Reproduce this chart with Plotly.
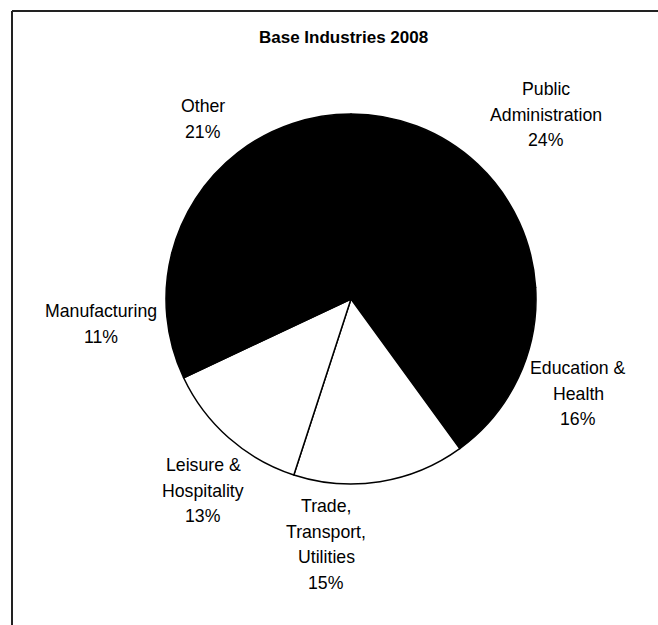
import plotly.graph_objects as go

# Base industries, 2008 (share of total, %)
categories = ["Public Administration", "Education & Health", "Trade, Transport, Utilities",
              "Leisure & Hospitality", "Manufacturing", "Other"]
shares = [24, 16, 15, 13, 11, 21]
label_lines = [
    ["Public", "Administration"],
    ["Education &", "Health"],
    ["Trade,", "Transport,", "Utilities"],
    ["Leisure &", "Hospitality"],
    ["Manufacturing"],
    ["Other"],
]
slice_colors = ["#000000", "#000000", "#ffffff", "#ffffff", "#000000", "#000000"]

W, H = 658, 625
CX, CY, R = 351, 299, 185

# Label block anchors (pixel centre of the first line) and line step
label_pos = [(546, 89), (578, 368), (326, 506), (203, 465), (101, 311), (203, 106)]
LINE_STEP = 25.5

fig = go.Figure(go.Pie(
    labels=categories,
    values=shares,
    sort=False,
    direction="clockwise",
    rotation=0,
    textinfo="none",
    hoverinfo="label+percent",
    marker=dict(colors=slice_colors, line=dict(color="#000000", width=1.5)),
    domain=dict(x=[(CX - R) / W, (CX + R) / W], y=[(H - CY - R) / H, (H - CY + R) / H]),
    showlegend=False,
))

font = dict(family="Liberation Sans, Arial, sans-serif", size=17.7, color="#000000")
annotations = []
for lines, share, (px, py) in zip(label_lines, shares, label_pos):
    for i, line in enumerate(lines + [f"{share}%"]):
        annotations.append(dict(
            x=px / W, y=1 - (py + i * LINE_STEP) / H, xref="paper", yref="paper",
            text=line, showarrow=False, xanchor="center", yanchor="middle", font=font,
        ))

annotations.append(dict(
    x=343 / W, y=1 - 37 / H, xref="paper", yref="paper", text="<b>Base Industries 2008</b>",
    showarrow=False, xanchor="center", yanchor="middle",
    font=dict(family="Liberation Sans, Arial, sans-serif", size=17, color="#000000"),
))

# Chart frame (top and left edges)
shapes = [
    dict(type="line", xref="paper", yref="paper", x0=12 / W, x1=1, y0=1 - 11 / H, y1=1 - 11 / H,
         line=dict(color="#222222", width=2)),
    dict(type="line", xref="paper", yref="paper", x0=12 / W, x1=12 / W, y0=0, y1=1 - 11 / H,
         line=dict(color="#222222", width=2)),
]

fig.update_layout(
    width=W, height=H, margin=dict(l=0, r=0, t=0, b=0),
    paper_bgcolor="#ffffff", plot_bgcolor="#ffffff",
    annotations=annotations, shapes=shapes,
)

fig.write_html("out.html")
